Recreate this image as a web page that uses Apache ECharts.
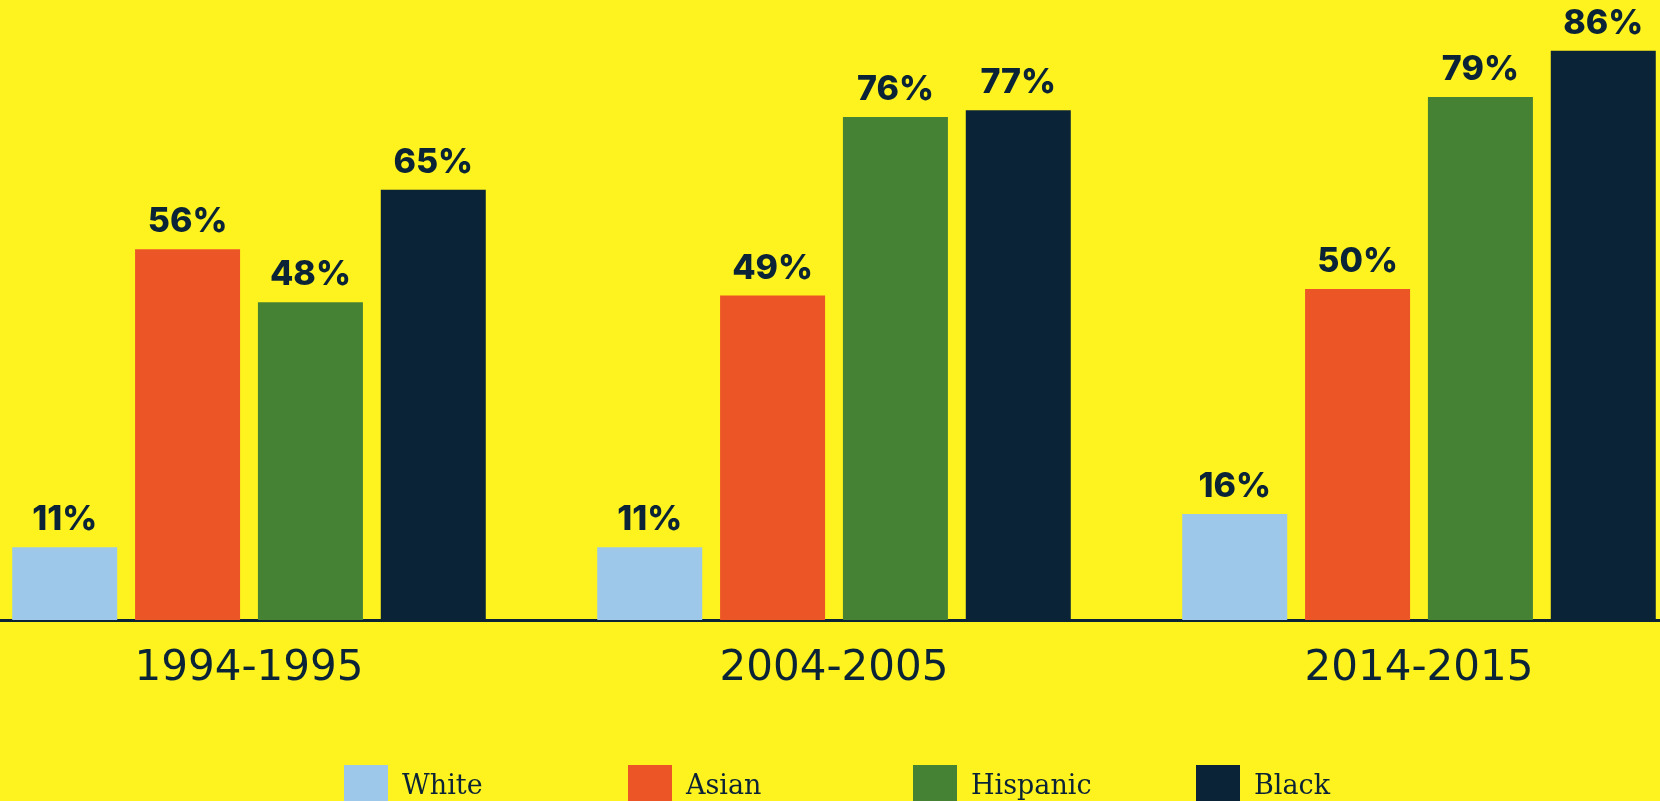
<!DOCTYPE html>
<html>
<head>
    <meta charset="utf-8">
    <title>ECharts</title>
    <script src="https://cdn.jsdelivr.net/npm/echarts@6/dist/echarts.min.js"></script>
    <style>
        html, body { margin: 0; padding: 0; background: #fef31e; }
    </style>
</head>

<body>

<div id="main" style="width: 1660px;height:801px;"></div>

<script type="text/javascript">

    // 数据
    var years = ['1994-1995', '2004-2005', '2014-2015'];
    var white = [11, 11, 16];
    var asian = [56, 49, 50];
    var hispanic = [48, 76, 79];
    var black = [65, 77, 86];

    var names = ['White', 'Asian', 'Hispanic', 'Black'];
    var colors = ['#9dc8ea', '#ec5627', '#468233', '#0b2337'];
    var values = [white, asian, hispanic, black];
    var legendLeft = [339, 623, 908, 1191];

    var myChart = echarts.init(document.getElementById('main'));

    var labelStyle = {
        show: true,
        position: 'top',
        distance: 10,
        formatter: '{c}%',
        color: '#0b2337',
        fontFamily: 'Inter',
        fontWeight: 800,
        fontSize: 34,
        lineHeight: 34
    };

    var series = names.map(function (n, i) {
        return {
            name: n,
            type: 'bar',
            data: values[i],
            barWidth: 105,
            barGap: '17%',
            itemStyle: { color: colors[i] },
            label: labelStyle
        };
    });

    var legends = names.map(function (n, i) {
        return {
            data: [n],
            left: legendLeft[i],
            top: 760,
            icon: 'rect',
            itemWidth: 44,
            itemHeight: 44,
            textStyle: {
                fontFamily: 'DejaVu Serif',
                fontSize: 27,
                color: '#0b2337',
                padding: [8, 0, 0, 9]
            },
            selectedMode: false
        };
    });

    myChart.setOption({
        backgroundColor: '#fef31e',
        animation: false,
        color: colors,
        legend: legends,
        grid: {
            left: -43.5,
            right: -51.5,
            top: 24.2,
            bottom: 181,
            containLabel: false,
            outerBoundsMode: 'none'
        },
        xAxis: {
            type: 'category',
            data: years,
            axisTick: { show: false },
            axisLine: { lineStyle: { color: '#0b2337', width: 3 } },
            axisLabel: {
                margin: 28,
                fontFamily: 'DejaVu Sans',
                fontSize: 42,
                lineHeight: 42,
                color: '#0b2337'
            }
        },
        yAxis: {
            type: 'value',
            min: 0,
            max: 90,
            show: false,
            splitLine: { show: false }
        },
        series: series
    });

</script>
</body>
</html>
